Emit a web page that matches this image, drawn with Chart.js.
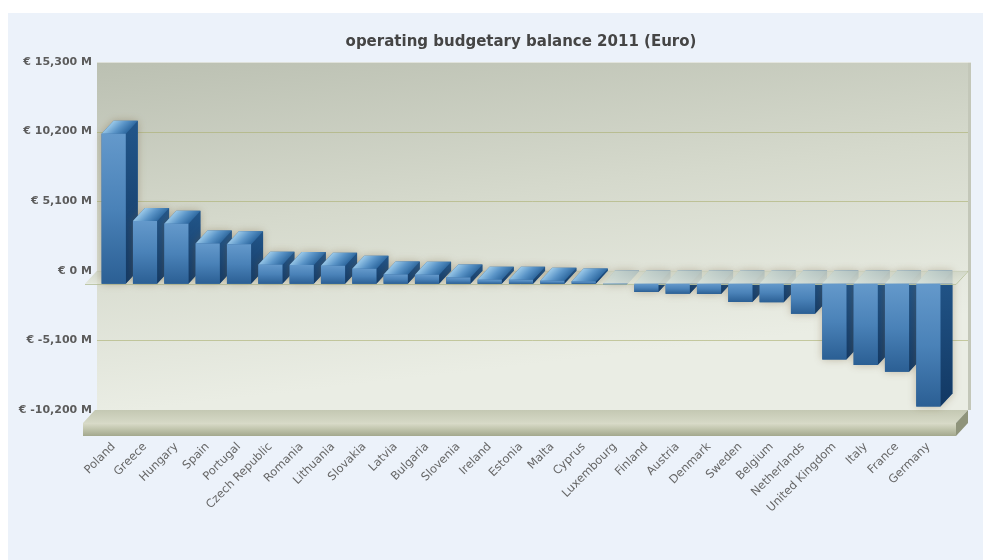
<!DOCTYPE html>
<html><head><meta charset="utf-8">
<script src="https://cdn.jsdelivr.net/npm/chart.js@4/dist/chart.umd.min.js"></script>
<style>html,body{margin:0;padding:0;background:#fff;overflow:hidden}#wrap{width:983px;height:560px;position:relative}</style>
</head><body><div id="wrap"><canvas id="c" width="983" height="560"></canvas></div>
<script>
const categories = ['Poland','Greece','Hungary','Spain','Portugal','Czech Republic','Romania','Lithuania','Slovakia','Latvia','Bulgaria','Slovenia','Ireland','Estonia','Malta','Cyprus','Luxembourg','Finland','Austria','Denmark','Sweden','Belgium','Netherlands','United Kingdom','Italy','France','Germany'];
const balance = [11000, 4600, 4400, 2950, 2900, 1400, 1380, 1320, 1100, 680, 660, 460, 300, 290, 220, 170, -40, -600, -730, -740, -1330, -1350, -2200, -5550, -5950, -6450, -9000];
const yTicks = [-10200, -5100, 0, 5100, 10200, 15300];
const titleText = 'operating budgetary balance 2011 (Euro)';

const DX = 12, DY = -13;

function poly(ctx, pts, fill) {
  ctx.beginPath();
  ctx.moveTo(pts[0][0], pts[0][1]);
  for (let i = 1; i < pts.length; i++) ctx.lineTo(pts[i][0], pts[i][1]);
  ctx.closePath();
  ctx.fillStyle = fill;
  ctx.fill();
}

function drawBar3d(ctx, el) {
  const p = el.getProps(['x', 'y', 'base', 'width'], true);
  const left = p.x - p.width / 2, right = p.x + p.width / 2;
  const top = Math.min(p.y, p.base), bot = Math.max(p.y, p.base);
  // soft halo
  ctx.save();
  ctx.shadowColor = 'rgba(120,95,60,0.4)';
  ctx.shadowBlur = 9;
  poly(ctx, [[left, bot], [left, top], [left + DX, top + DY], [right + DX, top + DY], [right + DX, bot + DY], [right, bot]], '#2f6398');
  ctx.restore();
  // side face
  const gs = ctx.createLinearGradient(0, top + DY, 0, bot);
  gs.addColorStop(0, '#22568a');
  gs.addColorStop(1, '#123863');
  poly(ctx, [[right, top], [right + DX, top + DY], [right + DX, bot + DY], [right, bot]], gs);
  // top face
  const gt = ctx.createLinearGradient(left + DX, top + DY, right, top);
  gt.addColorStop(0, '#9ccae9');
  gt.addColorStop(0.5, '#5b95c8');
  gt.addColorStop(1, '#2c679f');
  poly(ctx, [[left, top], [right, top], [right + DX, top + DY], [left + DX, top + DY]], gt);
}

const deco = {
  id: 'deco',
  beforeDraw(chart) {
    const { ctx, chartArea: a } = chart;
    const ys = chart.scales.y;
    ctx.save();
    ctx.fillStyle = '#ecf2fa';
    ctx.fillRect(8, 13, chart.width - 8, chart.height - 13);
    const fl = a.left - 13, fr = a.right + 12;
    const wl = fl + DX, wr = fr + DX, wt = a.top + DY, wb = a.bottom + DY;
    // back wall
    const g = ctx.createLinearGradient(wl, wt, wl + 40, wb);
    g.addColorStop(0, '#bbc0b2');
    g.addColorStop(0.5, '#d5d9cc');
    g.addColorStop(1, '#eaede4');
    ctx.fillStyle = g;
    ctx.fillRect(wl, wt, wr - wl, wb - wt);
    // wall right edge
    ctx.fillStyle = '#c3c7b9';
    ctx.fillRect(wr, wt, 3, wb - wt);
    ctx.fillStyle = 'rgba(255,255,255,0.5)';
    ctx.fillRect(wl, wt, wr - wl + 3, 1);
    // back gridlines
    ctx.strokeStyle = 'rgba(170,175,112,0.6)';
    ctx.lineWidth = 1;
    yTicks.forEach((v, i) => {
      if (i === 0 || i === yTicks.length - 1) return;
      const py = Math.round(ys.getPixelForValue(v) + DY) + 0.5;
      ctx.beginPath(); ctx.moveTo(wl, py); ctx.lineTo(wr, py); ctx.stroke();
    });
    // bottom slab
    const sb = a.bottom;
    const gtop = ctx.createLinearGradient(0, sb + DY, 0, sb);
    gtop.addColorStop(0, '#c4c8b3');
    gtop.addColorStop(1, '#d6d9c6');
    poly(ctx, [[fl - 2, sb], [fr, sb], [fr + DX, sb + DY], [fl + DX - 2, sb + DY]], gtop);
    const gf = ctx.createLinearGradient(0, sb, 0, sb + 13);
    gf.addColorStop(0, '#dadcca');
    gf.addColorStop(0.45, '#c2c6ae');
    gf.addColorStop(1, '#a3a88e');
    ctx.fillStyle = gf;
    ctx.fillRect(fl - 2, sb, fr - fl + 2, 13);
    poly(ctx, [[fr, sb], [fr + DX, sb + DY], [fr + DX, sb], [fr, sb + 13]], '#8f947b');
    ctx.restore();
  },
  beforeDatasetsDraw(chart) {
    const { ctx, chartArea: a } = chart;
    const meta = chart.getDatasetMeta(0);
    const y0 = chart.scales.y.getPixelForValue(0);
    const fl = a.left - 13, fr = a.right + 12;
    ctx.save();
    meta.data.forEach((el, i) => { if (balance[i] < 0) drawBar3d(ctx, el); });
    // translucent floor at zero
    const gfl = ctx.createLinearGradient(0, y0 + DY, 0, y0);
    gfl.addColorStop(0, 'rgba(205,211,196,0.82)');
    gfl.addColorStop(1, 'rgba(226,230,216,0.88)');
    poly(ctx, [[fl, y0], [fr, y0], [fr + DX, y0 + DY], [fl + DX, y0 + DY]], gfl);
    ctx.strokeStyle = 'rgba(185,195,160,0.9)';
    ctx.beginPath(); ctx.moveTo(fl, Math.round(y0) + 0.5); ctx.lineTo(fr, Math.round(y0) + 0.5); ctx.lineTo(fr + DX, Math.round(y0 + DY) + 0.5); ctx.stroke();
    meta.data.forEach((el, i) => { if (balance[i] >= 0) drawBar3d(ctx, el); });
    ctx.restore();
  }
};

function frontColor(c) {
  const chart = c.chart;
  if (c.type !== 'data' || !chart.chartArea) return '#3f76ad';
  const ys = chart.scales.y;
  const v = c.raw;
  const t = ys.getPixelForValue(Math.max(v, 0));
  const b = ys.getPixelForValue(Math.min(v, 0));
  if (!isFinite(t) || !isFinite(b) || Math.abs(b - t) < 1) return '#3f76ad';
  const g = chart.ctx.createLinearGradient(0, t, 0, b);
  g.addColorStop(0, '#6499cb');
  g.addColorStop(0.5, '#4a82b8');
  g.addColorStop(1, '#2b5f94');
  return g;
}

new Chart(document.getElementById('c'), {
  type: 'bar',
  data: {
    labels: categories,
    datasets: [{
      data: balance,
      backgroundColor: frontColor,
      borderWidth: 0,
      barPercentage: 0.77,
      categoryPercentage: 1
    }]
  },
  options: {
    responsive: false,
    animation: false,
    events: [],
    devicePixelRatio: 1,
    layout: { padding: { left: 0, right: 39, top: 33, bottom: 0 } },
    plugins: {
      legend: { display: false },
      tooltip: { enabled: false },
      title: {
        display: true,
        text: titleText,
        fullSize: false,
        color: '#454545',
        font: { family: 'DejaVu Sans', size: 15, weight: 'bold' },
        padding: { top: 0, bottom: 24 }
      }
    },
    scales: {
      x: {
        grid: { display: false, drawTicks: false },
        border: { display: false },
        ticks: {
          color: '#666',
          font: { family: 'DejaVu Sans', size: 11.5 },
          minRotation: 45, maxRotation: 45,
          autoSkip: false,
          padding: 17
        },
        afterFit: s => { s.height = 137; }
      },
      y: {
        min: yTicks[0],
        max: yTicks[yTicks.length - 1],
        grid: { display: false, drawTicks: false },
        border: { display: false },
        afterBuildTicks: s => { s.ticks = yTicks.map(v => ({ value: v })); },
        ticks: {
          color: '#5b5b5b',
          font: { family: 'DejaVu Sans', size: 11, weight: 'bold' },
          padding: 6,
          labelOffset: DY,
          callback: v => '€ ' + Number(v).toLocaleString('en-US') + ' M'
        },
        afterFit: s => { s.width = 98; }
      }
    }
  },
  plugins: [deco]
});
</script>
</body></html>
